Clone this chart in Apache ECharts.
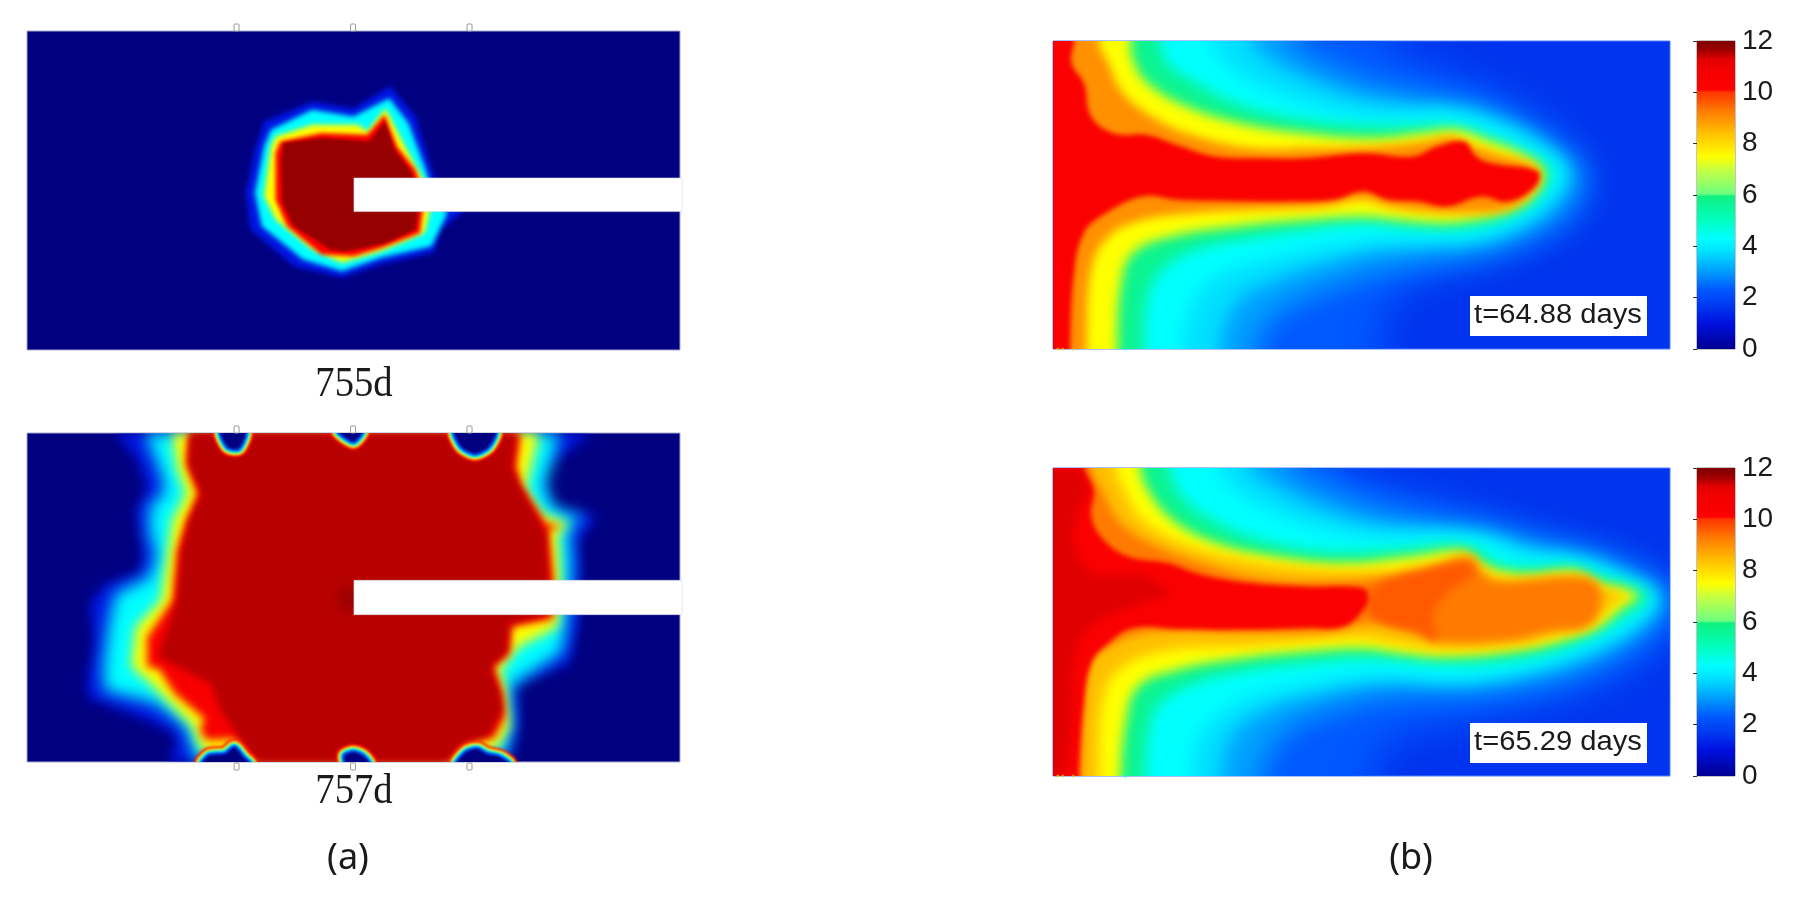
<!DOCTYPE html>
<html><head><meta charset="utf-8">
<script src="https://cdn.jsdelivr.net/npm/echarts@6/dist/echarts.min.js"></script>
<style>html,body{margin:0;padding:0;background:#fff}#c{width:1799px;height:900px}</style></head>
<body><div id="c"></div>
<script>
// ---- values: isolines, in reading units of each panel ----
const colorTicks = [0,2,4,6,8,10,12];
const colorStops = [[0,'#000090'],[1,'#0010e0'],[1.6,'#0034ee'],[2.3,'#0058ff'],[3.1,'#00a4ff'],[3.8,'#00e0ff'],[4.3,'#00ffff'],[5,'#00ffc0'],[5.95,'#10f080'],[6.05,'#70ff80'],[7,'#c8ff40'],[7.5,'#ffff00'],[8.4,'#ffc000'],[9,'#ff9000'],[9.3,'#ff7a00'],[9.6,'#ff5a00'],[10,'#ff3800'],[10.1,'#ff0000'],[11,'#f00000'],[11.3,'#e00000'],[11.5,'#b80000'],[11.7,'#960000'],[12,'#800000']];

// 755d
const a1Blue=[[575,365],[680,305],[770,325],[850,258],[905,350],[945,530],[1010,636],[960,690],[945,760],[830,795],[745,835],[640,800],[545,690],[535,580],[555,450]];
const a1Cyan=[[590,390],[680,330],[770,350],[848,295],[890,370],[925,500],[945,590],[975,640],[940,740],[830,775],[745,815],[660,780],[570,680],[555,580],[575,440]];
const a1Yellow=[[600,410],[680,375],[780,375],[800,395],[840,325],[875,420],[910,510],[945,590],[925,700],[830,755],[745,790],[680,750],[600,660],[575,590],[590,440]];
const a1Red=[[610,425],[700,400],[800,405],[838,345],[865,440],[905,510],[925,590],[915,700],[830,745],[770,770],[700,765],[625,680],[600,600],[600,460]];
const a1Deep=[[618,430],[700,415],[805,425],[838,365],[860,450],[895,515],[915,590],[905,690],[840,730],[790,745],[750,755],[720,750],[640,680],[615,610],[612,480]];

// 757d
const a2Blue=[[250,68],[300,150],[320,240],[295,300],[305,380],[310,440],[300,490],[230,520],[195,580],[205,700],[190,800],[190,860],[320,930],[375,965],[385,1000],[365,1055],[1105,1055],[1130,950],[1125,820],[1240,760],[1260,640],[1265,480],[1260,390],[1300,318],[1200,290],[1180,180],[1290,68]];
const a2Cyan=[[315,68],[345,170],[360,240],[325,290],[325,370],[340,430],[325,500],[250,550],[235,650],[225,760],[225,840],[340,880],[405,950],[415,1000],[430,1055],[1095,1055],[1115,950],[1110,830],[1225,725],[1235,630],[1245,480],[1240,350],[1275,320],[1210,300],[1185,230],[1220,68]];
const a2Yellow=[[375,68],[385,170],[405,250],[375,330],[365,430],[350,570],[295,650],[285,770],[320,810],[370,880],[420,950],[430,995],[460,1055],[1000,1055],[1085,1010],[1110,950],[1100,830],[1090,780],[1130,710],[1215,650],[1220,500],[1215,370],[1240,340],[1180,310],[1145,235],[1175,68]];
const a2Red=[[410,68],[405,160],[430,250],[405,330],[385,420],[375,570],[320,680],[320,770],[345,775],[380,850],[445,925],[435,960],[450,990],[510,985],[555,1055],[975,1055],[1010,1000],[1040,990],[1075,985],[1100,920],[1095,850],[1075,770],[1110,730],[1115,650],[1205,625],[1205,500],[1195,360],[1225,348],[1190,340],[1135,225],[1125,170],[1135,68]];
const a2Deep=[[415,68],[410,160],[438,250],[412,330],[395,420],[385,570],[345,740],[460,820],[480,900],[520,980],[560,1055],[975,1055],[1005,1005],[1045,985],[1065,975],[1095,900],[1090,850],[1070,770],[1105,725],[1110,640],[1195,612],[1195,500],[1190,370],[1135,230],[1115,170],[1125,68]];
const a2Tip=[[745,540],[771,530],[771,600],[745,590]];
const a2Holes=[
 [[480,60],[495,110],[520,115],[535,60]],
 [[735,60],[770,95],[790,60]],
 [[990,60],[1005,110],[1035,130],[1065,110],[1080,60]],
 [[755,1062],[750,1035],[770,1025],[790,1035],[805,1062]],
 [[995,1062],[1015,1025],[1040,1015],[1060,1030],[1090,1040],[1110,1062]],
 [[440,1062],[455,1035],[490,1030],[510,1010],[530,1040],[545,1062]]
];

// t=64.88
const b1L23=[[730,63],[800,120],[900,180],[1000,250],[1080,340],[1140,450],[1120,580],[1040,670],[900,740],[780,800],[730,870],[720,988]];
const b1L31=[[530,63],[590,120],[680,180],[800,225],[920,265],[1010,330],[1085,400],[1125,455],[1105,560],[1030,640],[930,700],[800,730],[680,770],[570,830],[490,900],[460,988]];
const b1L38=[[450,63],[490,120],[560,175],[660,230],[770,255],[870,262],[960,300],[1040,360],[1100,450],[1080,530],[1020,610],[920,665],[800,680],[700,690],[600,730],[500,780],[420,850],[385,988]];
const b1L43=[[370,63],[400,130],[470,200],[560,250],[650,285],[750,295],[850,290],[930,320],[1000,370],[1080,450],[1060,520],[1000,590],[900,645],[800,650],[680,660],[560,690],[450,730],[380,770],[340,830],[320,910],[310,988]];
const b1L57=[[265,63],[280,130],[340,190],[420,250],[520,290],[650,315],[770,320],[860,320],[920,345],[1000,395],[1060,450],[1040,520],[990,580],[900,620],[800,625],[680,610],[560,630],[450,655],[340,690],[270,750],[240,830],[232,988]];
const b1L75=[[205,63],[210,120],[240,190],[320,260],[430,310],[560,340],[700,355],[800,340],[870,330],[930,360],[1000,400],[1045,450],[1035,510],[990,565],[900,600],[840,608],[760,600],[680,590],[560,600],[420,620],[290,650],[210,700],[185,800],[178,988]];
const b1L90=[[140,63],[160,130],[190,220],[260,300],[340,350],[450,385],[560,385],[700,380],[800,365],[860,350],[900,375],[950,400],[1030,440],[1040,480],[1030,510],[980,565],[880,580],[800,575],[730,560],[680,540],[600,560],[450,570],[330,580],[230,600],[160,650],[125,750],[115,988]];
const b1L103=[[90,63],[85,130],[110,190],[125,290],[170,340],[240,345],[300,375],[380,410],[480,415],[560,415],[680,400],[780,410],[830,380],[885,365],[910,410],[940,430],[1035,455],[1030,500],[975,545],[920,530],[850,560],[790,545],[730,540],[680,515],[620,540],[540,545],[440,545],[300,540],[230,530],[150,585],[110,640],[90,760],[82,988]];

// t=65.29
const b2L23=[[640,55],[720,100],[830,150],[960,210],[1080,270],[1200,320],[1290,380],[1330,440],[1300,560],[1200,680],[1060,760],[900,810],[760,860],[720,910],[700,978]];
const b2L31=[[530,55],[590,100],[680,160],[800,205],[930,235],[1040,280],[1150,315],[1240,375],[1300,440],[1270,530],[1160,640],[1040,700],[900,730],[740,740],[620,780],[520,850],[470,978]];
const b2L38=[[450,55],[500,110],[580,170],[700,225],[830,240],[930,255],[1030,300],[1130,325],[1220,380],[1285,440],[1250,520],[1150,610],[1020,670],[880,700],[720,695],[590,730],[480,780],[410,860],[390,978]];
const b2L43=[[385,55],[420,120],[500,190],[600,240],[720,265],[860,260],[930,275],[1000,320],[1100,335],[1200,385],[1265,440],[1230,510],[1130,590],[1010,650],[870,680],[700,670],[560,700],[470,730],[400,780],[345,860],[330,978]];
const b2L57=[[285,55],[310,140],[370,210],[470,270],[600,305],[750,300],[860,285],[905,295],[960,345],[1030,355],[1110,350],[1170,385],[1230,410],[1260,440],[1220,490],[1140,560],[1050,610],[950,635],[850,640],[700,625],[560,640],[430,665],[320,710],[260,770],[240,860],[235,978]];
const b2L75=[[225,55],[240,120],[290,210],[380,280],[500,320],[640,340],[780,320],[880,305],[930,350],[1010,375],[1110,365],[1160,400],[1220,420],[1240,440],[1210,470],[1160,530],[1100,565],[1000,600],[850,620],[760,610],[680,595],[560,605],[430,625],[300,660],[220,710],[195,820],[185,978]];
const b2L84=[[175,55],[195,130],[230,210],[310,280],[420,325],[560,355],[720,360],[830,335],[890,310],[925,355],[970,385],[1120,375],[1165,410],[1215,440],[1185,470],[1150,520],[1090,550],[1000,585],[850,600],[760,585],[680,565],[560,575],[430,590],[290,600],[190,650],[150,740],[140,978]];
const b2L93=[[125,55],[150,130],[185,220],[260,290],[350,340],[450,380],[560,395],[720,385],[800,360],[900,325],[915,360],[950,395],[1130,385],[1165,430],[1140,525],[1060,545],[985,570],[830,575],[780,545],[700,520],[600,545],[430,545],[250,545],[160,590],[120,650],[105,978]];
const b2L96=[[730,390],[800,365],[890,340],[905,370],[880,400],[850,430],[820,500],[830,570],[790,545],[720,520],[690,480],[700,420]];
const b2L101=[[110,55],[130,120],[125,200],[150,270],[200,320],[280,340],[350,375],[450,400],[560,410],[680,415],[690,440],[680,480],[640,530],[560,535],[430,540],[300,538],[210,535],[160,580],[125,640],[110,760],[100,978]];
const b2L113=[[47,55],[100,55],[115,120],[95,200],[90,290],[130,370],[220,375],[280,430],[230,460],[130,520],[90,620],[85,760],[70,978],[47,978]];

const markers = [515,769,1023];
const edgeSpecksX = [57,67,88,194];
const edgeSpecksV = [8.4,8.4,8.4,4.3];
const timeLabels = ['t=64.88 days','t=65.29 days'];

// ---- helpers ----
function rgb(h){return [1,3,5].map(i=>parseInt(h.slice(i,i+2),16));}
function colorOf(v){
  for(let i=1;i<colorStops.length;i++){
    if(v<=colorStops[i][0]){
      const [a,ca]=colorStops[i-1],[b,cb]=colorStops[i],t=(v-a)/(b-a),A=rgb(ca),B=rgb(cb);
      return 'rgb('+A.map((x,k)=>Math.round(x+(B[k]-x)*t)).join(',')+')';
    }
  }
  return colorStops[colorStops.length-1][1];
}
const P = {
  a1:{left:27,top:31,width:653,height:319,x:[58,1482],y:[93,1052],bg:'#000080',border:'#a8a8c8'},
  a2:{left:27,top:433,width:653,height:329,x:[58,1482],y:[68,1055],bg:'#000080',border:'#a8a8c8'},
  b1:{left:1053,top:41,width:617,height:308,x:[47,1305],y:[63,988],bg:'#0034ee',border:'#5080ff'},
  b2:{left:1053,top:468,width:617,height:308,x:[47,1305],y:[55,978],bg:'#0034ee',border:'#5080ff'},
  c1:{left:1697,top:41,width:38,height:308},
  c2:{left:1697,top:468,width:38,height:308}
};
const keys=Object.keys(P);
const grid=keys.map(k=>{const p=P[k];return {left:p.left,top:p.top,width:p.width,height:p.height,show:true,
  backgroundColor:p.bg||'transparent',borderColor:p.border||'#888',borderWidth:1,containLabel:false};});
const xAxis=keys.map((k,i)=>{const p=P[k];return {type:'value',gridIndex:i,show:false,min:p.x?p.x[0]:0,max:p.x?p.x[1]:1};});
const yAxis=keys.map((k,i)=>{const p=P[k];
  if(p.y) return {type:'value',gridIndex:i,show:false,inverse:true,min:p.y[0],max:p.y[1]};
  return {type:'value',gridIndex:i,position:'right',min:colorTicks[0],max:colorTicks[colorTicks.length-1],interval:colorTicks[1]-colorTicks[0],
    axisLine:{show:false},splitLine:{show:false},
    axisTick:{show:true,inside:true,length:4,lineStyle:{color:'#333',width:1}},
    axisLabel:{show:true,margin:7,color:'#1a1a1a',fontFamily:'Liberation Sans',fontSize:28}};
});

// a filled isoline with a soft rim: the outline itself sits off the clip area, only its blurred shadow lands in the panel
const OFF=4000;
function soft(pts,c,blur,smooth,extra){
  return {type:'polygon',shape:{points:pts.map(q=>[q[0]-OFF,q[1]]),smooth:smooth},
    style:Object.assign({fill:c,shadowColor:c,shadowBlur:blur,shadowOffsetX:OFF},extra||{})};
}
function contourSeries(idx,levels,smooth,open){
  const p=P[keys[idx]];
  return {type:'custom',xAxisIndex:idx,yAxisIndex:idx,clip:true,silent:true,animation:false,
    data:levels.map(l=>[l[0]]),
    renderItem(params,api){
      const [v,line,blur]=levels[params.dataIndex];
      let pts=line;
      if(open && line[0][1]===p.y[0]){
        pts=[[line[0][0],p.y[0]-120]].concat(line).concat([[line[line.length-1][0],p.y[1]+120],[p.x[0]-160,p.y[1]+160],[p.x[0]-160,p.y[0]-160]]);
      }
      return soft(pts.map(q=>api.coord(q)),colorOf(v),blur,smooth);
    }};
}
function holeSeries(idx,holes){
  const layers=[[8,10.1],[6,7.5],[4,4.3],[2,2.3],[0,1]];
  const rows=[];holes.forEach(h=>layers.forEach(l=>rows.push([h,l])));
  return {type:'custom',xAxisIndex:idx,yAxisIndex:idx,clip:true,silent:true,animation:false,
    data:rows.map((r,i)=>[i]),
    renderItem(params,api){
      const [h,[w,v]]=rows[params.dataIndex];
      const c=v===1?'#000080':colorOf(v);
      return soft(h.map(q=>api.coord(q)),c,3,0.25,{stroke:c,lineWidth:w*2,lineJoin:'round'});
    }};
}
function notchSeries(idx,box){
  return {type:'custom',xAxisIndex:idx,yAxisIndex:idx,clip:false,silent:true,animation:false,z:5,
    data:[box],
    renderItem(params,api){
      const a=api.coord([api.value(0),api.value(1)]),b=api.coord([api.value(2),api.value(3)]);
      return {type:'rect',shape:{x:a[0],y:a[1],width:b[0]-a[0]+2,height:b[1]-a[1]},
        style:{fill:'#fff',stroke:'#d8d8e0',lineWidth:0.6}};
    }};
}
function markerSeries(idx,ys){
  const rows=[];markers.forEach(x=>ys.forEach(s=>rows.push([x,s[0],s[1]])));
  return {type:'custom',xAxisIndex:idx,yAxisIndex:idx,clip:false,silent:true,animation:false,z:6,
    data:rows,
    renderItem(params,api){
      const a=api.coord([api.value(0),api.value(1)]);
      return {type:'rect',shape:{x:a[0]-2.5,y:a[1]+api.value(2),width:5,height:7,r:1},
        style:{fill:'#fff',stroke:'#9a9a9a',lineWidth:1}};
    }};
}
function speckSeries(idx,yEdge){
  return {type:'custom',xAxisIndex:idx,yAxisIndex:idx,clip:false,silent:true,animation:false,z:6,
    data:edgeSpecksX.map((x,i)=>[x,yEdge,edgeSpecksV[i]]),
    renderItem(params,api){
      const a=api.coord([api.value(0),api.value(1)]);
      return {type:'circle',shape:{cx:a[0],cy:a[1],r:1.5},style:{fill:colorOf(api.value(2)),opacity:0.75}};
    }};
}
function barSeries(idx){
  return {type:'custom',xAxisIndex:idx,yAxisIndex:idx,clip:false,silent:true,animation:false,
    data:[[0,12,1,0]],
    renderItem(params,api){
      const a=api.coord([0,12]),b=api.coord([1,0]);
      return {type:'rect',shape:{x:a[0],y:a[1],width:b[0]-a[0],height:b[1]-a[1]},
        style:{fill:new echarts.graphic.LinearGradient(0,1,0,0,colorStops.map(s=>({offset:s[0]/12,color:s[1]})))}};
    }};
}

const series=[
  contourSeries(0,[[1.1,a1Blue,5],[4.3,a1Cyan,5],[7.5,a1Yellow,5],[10.5,a1Red,4],[11.7,a1Deep,3]],0,false),
  notchSeries(0,[771,535,1482,636]),
  markerSeries(0,[[93,-7]]),
  contourSeries(1,[[1.1,a2Blue,12],[4.3,a2Cyan,16],[7.5,a2Yellow,12],[10.5,a2Red,8],[11.5,a2Deep,7],[11.9,a2Tip,14]],0,false),
  holeSeries(1,a2Holes),
  notchSeries(1,[771,510,1482,613]),
  markerSeries(1,[[68,-7],[1055,1]]),
  contourSeries(2,[[2.3,b1L23,36],[3.1,b1L31,30],[3.8,b1L38,18],[4.3,b1L43,18],[5.7,b1L57,14],[7.5,b1L75,12],[9,b1L90,10],[10.4,b1L103,5]],0.4,true),
  speckSeries(2,988),
  contourSeries(3,[[2.3,b2L23,36],[3.1,b2L31,30],[3.8,b2L38,18],[4.3,b2L43,18],[5.7,b2L57,14],[7.5,b2L75,12],[8.4,b2L84,12],[9.3,b2L93,10],[9.6,b2L96,8],[10.4,b2L101,5],[11.3,b2L113,8]],0.4,true),
  speckSeries(3,978),
  barSeries(4),barSeries(5)
];

const txt=(t,x,y,font,sx)=>({type:'text',x:x,y:y,scaleX:sx||1,z:20,silent:true,
  style:{text:t,font:font,fill:'#1a1a1a',align:'center',verticalAlign:'middle'}});
const box=(x,y,w,h)=>({type:'rect',shape:{x,y,width:w,height:h},z:19,silent:true,style:{fill:'#fff'}});
const graphic=[
  txt('755d',354,385,'42px "Liberation Serif"',0.92),
  txt('757d',354,792,'42px "Liberation Serif"',0.92),
  txt('(a)',348,859,'36px "Noto Sans"',1),
  txt('(b)',1411,859,'36px "Noto Sans"',1),
  box(1470,296,177,40),box(1470,723,177,40),
  txt(timeLabels[0],1558,316,'27px "Liberation Sans"',1.08),
  txt(timeLabels[1],1558,743,'27px "Liberation Sans"',1.08)
];

const chart=echarts.init(document.getElementById('c'),null,{renderer:'canvas'});
chart.setOption({animation:false,backgroundColor:'#fff',grid,xAxis,yAxis,series,graphic,tooltip:{show:false}});
</script></body></html>
